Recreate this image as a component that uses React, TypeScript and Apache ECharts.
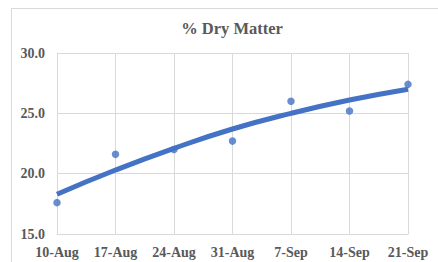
import React, { useEffect, useRef } from "react";
import * as echarts from "echarts";

const categories = ["10-Aug", "17-Aug", "24-Aug", "31-Aug", "7-Sep", "14-Sep", "21-Sep"];
const dryMatter = [17.6, 21.6, 22.0, 22.7, 26.0, 25.2, 27.4];
const trendValues = [18.3, 20.3, 22.1, 23.7, 25.0, 26.1, 27.0];
const titleText = "% Dry Matter";

export default function App() {
  const ref = useRef<HTMLDivElement>(null);
  useEffect(() => {
    if (!ref.current) return;
    const chart = echarts.init(ref.current, undefined, { renderer: "svg" });
    const font = "Liberation Serif";
    chart.setOption({
      animation: false,
      backgroundColor: "#ffffff",
      title: {
        text: titleText,
        left: 227,
        textAlign: "center",
        top: 15,
        textStyle: { fontFamily: font, fontWeight: "bold", fontSize: 16.5, color: "#595959" },
      },
      graphic: [
        {
          type: "rect",
          shape: { x: 11.5, y: 8.5, width: 500, height: 400 },
          style: { fill: "none", stroke: "#d9d9d9", lineWidth: 1 },
          silent: true,
          z: -1,
        },
      ],
      grid: { left: 57, right: 30, top: 53, bottom: 28 },
      xAxis: {
        type: "category",
        data: categories,
        boundaryGap: false,
        axisLine: { show: true, lineStyle: { color: "#d9d9d9", width: 1 } },
        axisTick: { show: false },
        axisLabel: { fontFamily: font, fontWeight: "bold", fontSize: 14, color: "#595959", margin: 11 },
        splitLine: { show: true, lineStyle: { color: "#d9d9d9", width: 1 } },
      },
      yAxis: {
        type: "value",
        min: 15,
        max: 30,
        interval: 5,
        axisLine: { show: false },
        axisTick: { show: false },
        axisLabel: {
          fontFamily: font,
          fontWeight: "bold",
          fontSize: 14,
          color: "#595959",
          margin: 12,
          formatter: (v: number) => v.toFixed(1),
        },
        splitLine: { show: true, lineStyle: { color: "#d9d9d9", width: 1 } },
      },
      series: [
        {
          type: "line",
          data: trendValues,
          smooth: true,
          showSymbol: false,
          lineStyle: { color: "#4472C4", width: 5 },
          z: 2,
        },
        {
          type: "scatter",
          data: dryMatter,
          symbol: "circle",
          symbolSize: 7.5,
          itemStyle: { color: "#4472C4" },
          z: 3,
        },
      ],
    });
    return () => chart.dispose();
  }, []);
  return (
    <div
      ref={ref}
      style={{ position: "absolute", left: 0, top: 0, width: 438, height: 262 }}
    />
  );
}
